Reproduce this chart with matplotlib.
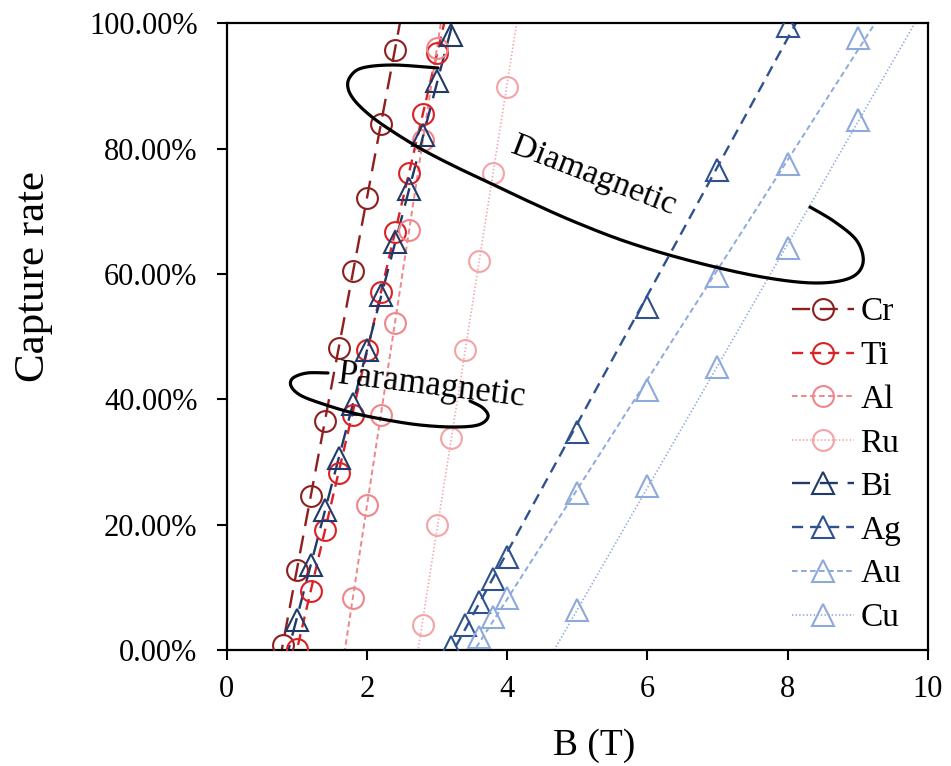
import numpy as np
import matplotlib
matplotlib.use("Agg")
import matplotlib.pyplot as plt
from matplotlib.lines import Line2D

plt.rcParams['font.family'] = ['Liberation Serif', 'DejaVu Serif']
plt.rcParams['lines.scale_dashes'] = False

# ---------------- data ----------------
names = ["Cr", "Ti", "Al", "Ru", "Bi", "Ag", "Au", "Cu"]

cr_x = [0.8, 1.0, 1.2, 1.4, 1.6, 1.8, 2.0, 2.2, 2.4]
cr_y = [0.8, 12.8, 24.6, 36.5, 48.2, 60.4, 72.1, 84.0, 95.7]

ti_x = [1.0, 1.2, 1.4, 1.6, 1.8, 2.0, 2.2, 2.4, 2.6, 2.8, 3.0]
ti_y = [0.2, 9.4, 19.1, 28.3, 37.5, 47.9, 57.2, 66.7, 76.1, 85.5, 95.2]

al_x = [1.8, 2.0, 2.2, 2.4, 2.6, 2.8, 3.0]
al_y = [8.3, 23.1, 37.5, 52.1, 67.0, 81.4, 96.0]

ru_x = [2.8, 3.0, 3.2, 3.4, 3.6, 3.8, 4.0]
ru_y = [4.0, 19.9, 33.9, 47.9, 62.0, 76.1, 89.9]

bi_x = [1.0, 1.2, 1.4, 1.6, 1.8, 2.0, 2.2, 2.4, 2.6, 2.8, 3.0, 3.2]
bi_y = [4.8, 13.5, 22.3, 30.7, 39.2, 47.8, 56.6, 65.1, 73.5, 82.2, 90.8, 98.2]

ag_x = [3.2, 3.4, 3.6, 3.8, 4.0, 5.0, 6.0, 7.0, 8.0]
ag_y = [0.5, 4.0, 7.7, 11.4, 14.9, 34.8, 54.8, 76.6, 99.5]

au_x = [3.6, 3.8, 4.0, 5.0, 6.0, 7.0, 8.0, 9.0]
au_y = [2.1, 5.3, 8.3, 25.0, 41.5, 59.6, 77.6, 97.6]

cu_x = [5.0, 6.0, 7.0, 8.0, 9.0]
cu_y = [6.4, 26.1, 45.2, 64.1, 84.6]

xs = [cr_x, ti_x, al_x, ru_x, bi_x, ag_x, au_x, cu_x]
ys = [cr_y, ti_y, al_y, ru_y, bi_y, ag_y, au_y, cu_y]

x_ticks = [0, 2, 4, 6, 8, 10]
y_ticks = [0, 20, 40, 60, 80, 100]

# ---------------- styles ----------------
colors = ["#8E1F1F", "#DA2126", "#F0868A", "#F4A3A6",
          "#203A6A", "#2F528F", "#8EA9DB", "#8EA9DB"]
markers = ["o", "o", "o", "o", "^", "^", "^", "^"]
lstyles = [(0, (13, 7)), (0, (8, 5)), (0, (4, 2.5)), (0, (1, 1.6)),
           (0, (13, 7)), (0, (8, 5)), (0, (4, 2.5)), (0, (1, 1.6))]
lwidths = [1.7, 1.7, 1.4, 1.2, 1.7, 1.7, 1.4, 1.2]
msize = {"o": 15, "^": 15.5}

W, H = 951, 766
fig = plt.figure(figsize=(W / 100, H / 100), dpi=100)
axl, axr, axt, axb = 226.7, 927.7, 23.3, 650.0
ax = fig.add_axes([axl / W, 1 - axb / H, (axr - axl) / W, (axb - axt) / H])

handles = []
for n, x, y, c, m, ls, lw in zip(names, xs, ys, colors, markers, lstyles, lwidths):
    x = np.asarray(x, float)
    y = np.asarray(y, float)
    k, b = np.polyfit(x, y, 1)
    xl = np.array([(-2 - b) / k, (102 - b) / k])
    ax.plot(xl, k * xl + b, color=c, ls=ls, lw=lw, zorder=2)
    ax.plot(x, y, ls='none', marker=m, ms=msize[m],
            mfc='none', mec=c, mew=1.5, zorder=3)
    handles.append(Line2D([], [], color=c, ls=ls, lw=lw, marker=m,
                          ms=msize[m], mfc='none', mec=c, mew=1.5))

ax.set_xlim(0, 10)
ax.set_ylim(0, 100)
ax.set_xticks(x_ticks)
ax.set_yticks(y_ticks)
ax.set_xticklabels([str(t) for t in x_ticks])
ax.set_yticklabels([f"{t:.2f}%" for t in y_ticks])
ax.tick_params(direction='out', length=7, width=1.5, labelsize=22)
ax.tick_params(axis='y', pad=14)
ax.tick_params(axis='x', pad=11)
for s in ax.spines.values():
    s.set_linewidth(1.6)

ax.set_xlabel("B (T)", fontsize=27)
ax.set_ylabel("Capture rate", fontsize=31)
ax.xaxis.set_label_coords((594 - axl) / (axr - axl), (axb - 728) / (axb - axt))
ax.yaxis.set_label_coords((53 - axl) / (axr - axl), (axb - 276) / (axb - axt))

leg = ax.legend(handles, names, loc='upper left',
                bbox_to_anchor=((792 - axl) / (axr - axl), (axb - 297) / (axb - axt)),
                frameon=False, fontsize=24, handlelength=1.85, handletextpad=0.2,
                labelspacing=0.395, borderpad=0, borderaxespad=0)


# ---------------- annotation curves ----------------
def px2ax(pts):
    pts = np.asarray(pts, float)
    return np.column_stack([(pts[:, 0] - axl) / (axr - axl),
                            (axb - pts[:, 1]) / (axb - axt)])


def catmull(pts, n=20):
    pts = np.asarray(pts, float)
    p = np.vstack([pts[0], pts, pts[-1]])
    out = []
    t = np.linspace(0, 1, n, endpoint=False)[:, None]
    for i in range(1, len(p) - 2):
        p0, p1, p2, p3 = p[i - 1], p[i], p[i + 1], p[i + 2]
        seg = 0.5 * ((2 * p1) + (-p0 + p2) * t + (2 * p0 - 5 * p1 + 4 * p2 - p3) * t ** 2
                     + (-p0 + 3 * p1 - 3 * p2 + p3) * t ** 3)
        out.append(seg)
    out.append(pts[-1:])
    return np.vstack(out)


dia = [(438, 68), (393, 65), (362, 68), (350, 77), (348, 88), (355, 101), (372, 117),
       (395, 133), (423, 150), (456, 167), (492, 184), (530, 202), (575, 222),
       (630, 243), (695, 262), (762, 277), (815, 283), (850, 278), (863, 263),
       (857, 241), (835, 222), (810, 207)]
para = [(328, 373), (307, 373), (293, 378), (291, 386), (300, 395), (320, 403),
        (353, 413), (387, 420), (420, 425), (453, 427), (478, 425), (488, 417),
        (483, 408), (470, 401)]
for pts in (dia, para):
    cur = px2ax(catmull(pts))
    ax.plot(cur[:, 0], cur[:, 1], color='black', lw=2.3, transform=ax.transAxes,
            clip_on=False, zorder=4, solid_capstyle='round')

t1 = px2ax([(594, 176)])[0]
ax.text(t1[0], t1[1], "Diamagnetic", transform=ax.transAxes, fontsize=24.5,
        rotation=-21, rotation_mode='anchor', ha='center', va='center', zorder=5)
t2 = px2ax([(432, 386)])[0]
ax.text(t2[0], t2[1], "Paramagnetic", transform=ax.transAxes, fontsize=25,
        rotation=-7, rotation_mode='anchor', ha='center', va='center', zorder=5)

fig.savefig("out.png", dpi=100)
